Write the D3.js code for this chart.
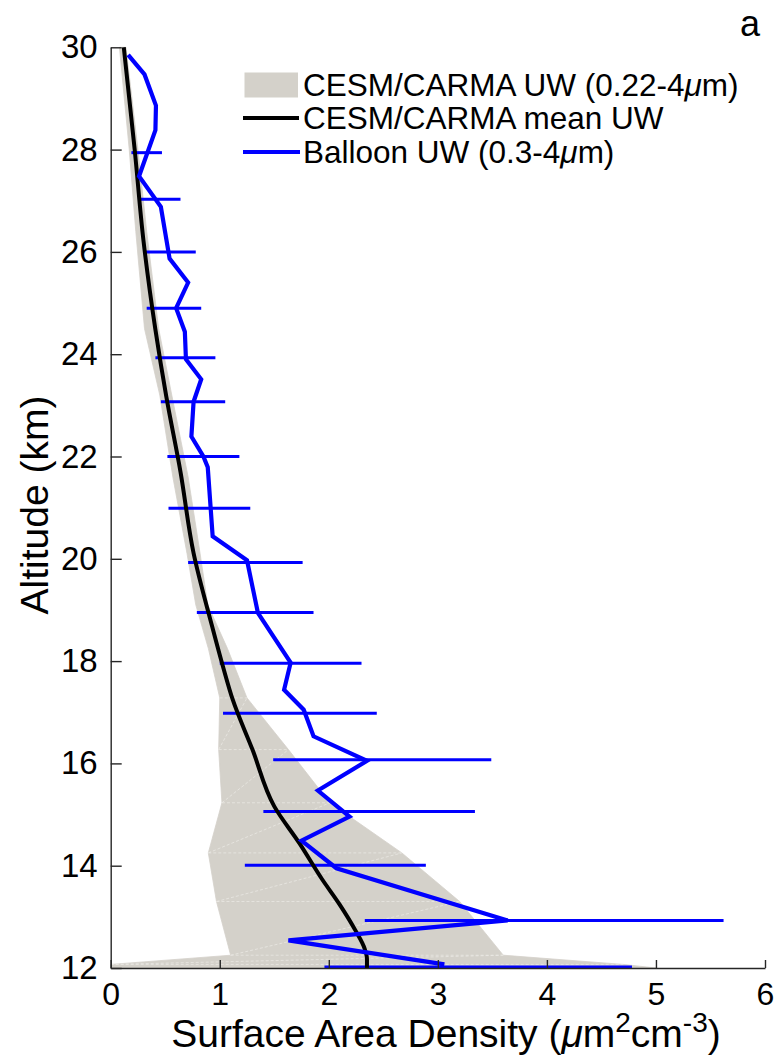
<!DOCTYPE html>
<html>
<head>
<meta charset="utf-8">
<script src="https://cdn.jsdelivr.net/npm/d3@7"></script>
<style>
  body { margin: 0; background: #fff; }
  svg text { font-family: "Liberation Sans", Arial, Helvetica, sans-serif; fill: #000; }
</style>
</head>
<body>
<div id="chart"></div>
<script>
// DATA
// model spread band: altitude (km), lower and upper surface area density
const bandAlt = [30, 28, 26.4, 24.5, 23.2, 21.6, 20.1, 19.1, 18.25, 17.28, 16.27, 15.23, 14.25, 13.3, 12.25, 12.07, 12.0];
const bandLo  = [0.08, 0.17, 0.23, 0.31, 0.45, 0.57, 0.70, 0.78, 0.895, 1.00, 0.99, 1.02, 0.895, 0.97, 1.10, 0.0, 0.0];
const bandHi  = [0.14, 0.25, 0.33, 0.44, 0.56, 0.71, 0.82, 0.89, 1.07, 1.25, 1.63, 2.01, 2.67, 3.20, 3.60, 4.70, 5.0];

// model mean profile
const meanAlt = [30, 28, 26.23, 24.48, 23.17, 21.7, 20.11, 18.68, 17.89, 17.24, 16.27, 15.16, 14.44, 13.73, 13.24, 12.75, 12.37, 12.18, 12.0];
const meanVal = [0.12, 0.22, 0.30, 0.41, 0.51, 0.64, 0.76, 0.93, 1.03, 1.12, 1.30, 1.50, 1.73, 1.94, 2.10, 2.24, 2.33, 2.35, 2.35];

// balloon profile
const balloonAlt = [29.85, 29.47, 28.86, 28.38, 27.48, 26.88, 25.87, 25.40, 24.90, 24.44, 23.90, 23.51, 23.07, 22.39, 22.0, 21.79, 20.44, 19.97, 18.94, 17.97, 17.44, 17.05, 16.53, 16.05, 15.47, 14.96, 14.49, 13.95, 12.93, 12.54, 12.07];
const balloonVal = [0.16, 0.31, 0.415, 0.41, 0.26, 0.46, 0.54, 0.71, 0.60, 0.68, 0.69, 0.83, 0.76, 0.74, 0.85, 0.89, 0.935, 1.25, 1.35, 1.65, 1.59, 1.77, 1.86, 2.35, 1.90, 2.19, 1.75, 2.07, 3.64, 1.63, 3.06];

// balloon uncertainty bars
const errAlt = [27.94, 27.03, 26.0, 24.90, 23.93, 23.07, 22.0, 20.99, 19.93, 18.95, 17.96, 16.98, 16.07, 15.06, 14.01, 12.93, 12.02];
const errLo  = [0.19, 0.25, 0.32, 0.33, 0.41, 0.46, 0.52, 0.53, 0.71, 0.79, 1.00, 1.03, 1.49, 1.40, 1.23, 2.33, 1.96];
const errHi  = [0.47, 0.64, 0.78, 0.83, 0.96, 1.05, 1.18, 1.28, 1.76, 1.86, 2.30, 2.44, 3.49, 3.34, 2.89, 5.62, 4.78];

const xTicks = [0, 1, 2, 3, 4, 5, 6];
const yTicks = [12, 14, 16, 18, 20, 22, 24, 26, 28, 30];

const legendLabels = ["CESM/CARMA UW (0.22-4", "CESM/CARMA mean UW", "Balloon UW (0.3-4"];

// SETUP
const W = 776, H = 1056;
const margin = { top: 47.3, right: 11, bottom: 88, left: 110.7 };
const width = W - margin.left - margin.right;
const height = H - margin.top - margin.bottom;

const svgRoot = d3.select("#chart").append("svg")
    .attr("width", W)
    .attr("height", H);

const svg = svgRoot.append("g")
    .attr("transform", `translate(${margin.left},${margin.top})`);

const x = d3.scaleLinear().domain([0, 6]).range([0, width]);
const y = d3.scaleLinear().domain([12, 30]).range([height, 0]);

const grey = "#d4d1ca";

// model band
const band = bandAlt.map((a, i) => ({ alt: a, lo: bandLo[i], hi: bandHi[i] }));
svg.append("path")
    .datum(band)
    .attr("d", d3.area().y(d => y(d.alt)).x0(d => x(d.lo)).x1(d => x(d.hi)))
    .attr("fill", grey)
    .attr("stroke", grey)
    .attr("stroke-width", 0.8);

// faint mesh seams of the filled patch
const seams = [];
band.forEach((d, i) => {
    if (i > 0 && d.alt < 17.5 && d.alt > 12.05) seams.push([[d.lo, d.alt], [d.hi, d.alt]]);
    if (i > 0 && band[i - 1].alt < 18 && d.alt > 12.0) seams.push([[d.lo, d.alt], [band[i - 1].hi, band[i - 1].alt]]);
});
svg.selectAll("line.seam")
    .data(seams)
    .enter().append("line")
    .attr("class", "seam")
    .attr("x1", d => x(d[0][0])).attr("y1", d => y(d[0][1]))
    .attr("x2", d => x(d[1][0])).attr("y2", d => y(d[1][1]))
    .attr("stroke", "#ecebe6")
    .attr("stroke-width", 0.7)
    .attr("stroke-dasharray", "3,2");

// error bars
svg.selectAll("line.err")
    .data(errAlt.map((a, i) => ({ alt: a, lo: errLo[i], hi: errHi[i] })))
    .enter().append("line")
    .attr("class", "err")
    .attr("x1", d => x(d.lo)).attr("x2", d => x(d.hi))
    .attr("y1", d => y(d.alt)).attr("y2", d => y(d.alt))
    .attr("stroke", "#0000ff")
    .attr("stroke-width", 3);

// model mean
svg.append("path")
    .datum(meanAlt.map((a, i) => ({ alt: a, v: meanVal[i] })))
    .attr("d", d3.line().x(d => x(d.v)).y(d => y(d.alt)).curve(d3.curveMonotoneY))
    .attr("fill", "none")
    .attr("stroke", "#000")
    .attr("stroke-width", 4);

// balloon profile
svg.append("path")
    .datum(balloonAlt.map((a, i) => ({ alt: a, v: balloonVal[i] })))
    .attr("d", d3.line().x(d => x(d.v)).y(d => y(d.alt)))
    .attr("fill", "none")
    .attr("stroke", "#0000ff")
    .attr("stroke-width", 4.2)
    .attr("stroke-linejoin", "miter");

// AXES
const axisColor = "#262626";
const gx = svg.append("g")
    .attr("transform", `translate(0,${height})`)
    .call(d3.axisBottom(x).tickValues(xTicks).tickFormat(d3.format("d"))
        .tickSizeInner(-8).tickSizeOuter(0).tickPadding(14));
const gy = svg.append("g")
    .call(d3.axisLeft(y).tickValues(yTicks).tickFormat(d3.format("d"))
        .tickSizeInner(-11).tickSizeOuter(0).tickPadding(13));

[gx, gy].forEach(g => {
    g.select(".domain").attr("stroke", axisColor).attr("stroke-width", 1.4);
    g.selectAll(".tick line").attr("stroke", axisColor).attr("stroke-width", 1.4);
    g.selectAll(".tick text").attr("font-size", 33).attr("fill", "#000")
        .attr("font-family", "'Liberation Sans', Arial, sans-serif");
});
gx.selectAll(".tick text").attr("font-size", 32);

// axis labels
const xLabel = svgRoot.append("text")
    .attr("x", 446)
    .attr("y", 1047)
    .attr("text-anchor", "middle")
    .attr("font-size", 39);
xLabel.append("tspan").text("Surface Area Density (");
xLabel.append("tspan").attr("font-style", "italic").text("\u03bc");
xLabel.append("tspan").text("m");
xLabel.append("tspan").attr("font-size", 28).attr("dy", -15).text("2");
xLabel.append("tspan").attr("dy", 15).text("cm");
xLabel.append("tspan").attr("font-size", 28).attr("dy", -15).text("-3");
xLabel.append("tspan").attr("dy", 15).text(")");

svgRoot.append("text")
    .attr("transform", "translate(48,505) rotate(-90)")
    .attr("text-anchor", "middle")
    .attr("font-size", 39)
    .text("Altitude (km)");

// panel letter
svgRoot.append("text")
    .attr("x", 750)
    .attr("y", 36)
    .attr("text-anchor", "middle")
    .attr("font-size", 36)
    .text("a");

// LEGEND
const legend = svgRoot.append("g").attr("transform", "translate(243,0)");
const rowY = [85, 118, 152];
legend.append("rect")
    .attr("x", 1.5).attr("y", rowY[0] - 12.5)
    .attr("width", 53.5).attr("height", 25)
    .attr("fill", grey);
legend.append("line")
    .attr("x1", 0).attr("x2", 56).attr("y1", rowY[1]).attr("y2", rowY[1])
    .attr("stroke", "#000").attr("stroke-width", 4);
legend.append("line")
    .attr("x1", 0).attr("x2", 57).attr("y1", rowY[2]).attr("y2", rowY[2])
    .attr("stroke", "#0000ff").attr("stroke-width", 4);

legendLabels.forEach((lab, i) => {
    const t = legend.append("text")
        .attr("x", 60)
        .attr("y", rowY[i] + 11)
        .attr("font-size", 31.5);
    t.append("tspan").text(lab);
    if (i !== 1) {
        t.append("tspan").attr("font-style", "italic").text("\u03bc");
        t.append("tspan").text("m)");
    }
});
</script>
</body>
</html>
